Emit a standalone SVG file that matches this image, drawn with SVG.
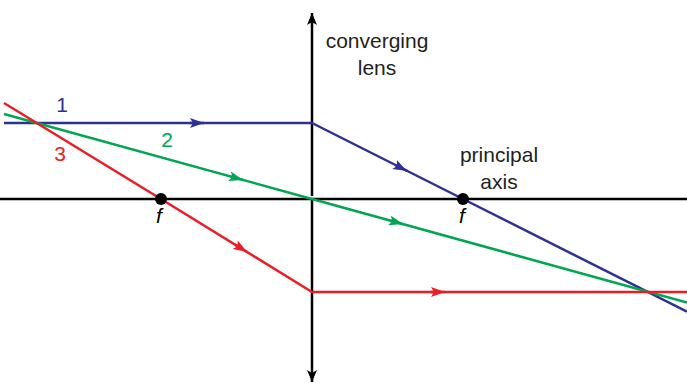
<svg xmlns="http://www.w3.org/2000/svg" width="687" height="383" viewBox="0 0 687 383">
<style>
.ax{stroke:#000;stroke-width:2.5;fill:none}
.ray{stroke-width:2.5;fill:none;stroke-linejoin:round}
.b{stroke:#2e3192}.g{stroke:#00a651}.r{stroke:#ed1c24}
.t{font-family:"Liberation Sans",Arial,sans-serif;font-size:21px;fill:#231f20;text-anchor:middle}
.f{font-family:"Liberation Sans",Arial,sans-serif;font-size:21px;font-style:italic;fill:#000;text-anchor:middle}
</style>
<defs>
<marker id="ak" viewBox="0 0 12 10" refX="12" refY="5" markerWidth="12" markerHeight="10" markerUnits="userSpaceOnUse" orient="auto"><path d="M0,0 L12,5 L0,10 L3,5 Z" fill="#000"/></marker>
<marker id="ab" viewBox="0 0 14 10" refX="14" refY="5" markerWidth="14" markerHeight="10" markerUnits="userSpaceOnUse" orient="auto"><path d="M0,0 L14,5 L0,10 L3,5 Z" fill="#2e3192"/></marker>
<marker id="ag" viewBox="0 0 14 10" refX="14" refY="5" markerWidth="14" markerHeight="10" markerUnits="userSpaceOnUse" orient="auto"><path d="M0,0 L14,5 L0,10 L3,5 Z" fill="#00a651"/></marker>
<marker id="ar" viewBox="0 0 14 10" refX="14" refY="5" markerWidth="14" markerHeight="10" markerUnits="userSpaceOnUse" orient="auto"><path d="M0,0 L14,5 L0,10 L3,5 Z" fill="#ed1c24"/></marker>
</defs>
<g id="principal-axis">
<line class="ax" x1="0" y1="199" x2="687" y2="199"/>
</g>
<g id="lens">
<line class="ax" x1="312" y1="196" x2="312" y2="13" marker-end="url(#ak)"/>
<line class="ax" x1="312" y1="199" x2="312" y2="382" marker-end="url(#ak)"/>
<text class="t" x="377" y="48">converging</text>
<text class="t" x="377" y="75">lens</text>
</g>
<g id="connectors">
<path class="ray b" d="M4,123 L312,123 L463,199 L687,311.7"/>
<path class="ray g" d="M4,114 L312,199 L687,302.5"/>
<path class="ray r" d="M4,103 L161,199 L312,292 L687,292"/>
<line class="ray b" x1="190" y1="123" x2="204" y2="123" marker-end="url(#ab)"/>
<line class="ray b" x1="395" y1="164.8" x2="407" y2="170.9" marker-end="url(#ab)"/>
<line class="ray g" x1="230" y1="176.4" x2="243" y2="180" marker-end="url(#ag)"/>
<line class="ray g" x1="390" y1="220.5" x2="403" y2="224.1" marker-end="url(#ag)"/>
<line class="ray r" x1="235" y1="244.6" x2="247" y2="252" marker-end="url(#ar)"/>
<line class="ray r" x1="430" y1="292" x2="445" y2="292" marker-end="url(#ar)"/>
</g>
<g id="focal-left">
<circle cx="161" cy="199" r="6" fill="#000"/>
<text class="f" x="159" y="223">f</text>
</g>
<g id="focal-right">
<circle cx="463" cy="199" r="6" fill="#000"/>
<text class="f" x="462" y="223">f</text>
</g>
<g id="principal-axis-label">
<text class="t" x="499" y="162">principal</text>
<text class="t" x="499" y="189">axis</text>
</g>
<g id="ray-labels">
<text class="t" x="62" y="112" style="fill:#2e3192">1</text>
<text class="t" x="167" y="147" style="fill:#00a651">2</text>
<text class="t" x="60" y="161" style="fill:#ed1c24">3</text>
</g>
</svg>
